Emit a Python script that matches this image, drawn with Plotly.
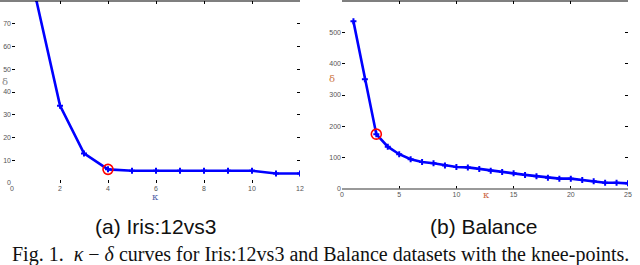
import plotly.graph_objects as go

# Left panel: Iris:12vs3
k_iris = [1, 2, 3, 4, 5, 6, 7, 8, 9, 10, 11, 12]
d_iris = [81, 34, 13, 6, 5.4, 5.4, 5.4, 5.4, 5.4, 5.4, 4.2, 4.2]
knee_iris_k = [4]
knee_iris_d = [6]

# Right panel: Balance
k_bal = list(range(1, 26))
d_bal = [535, 350, 175, 135, 111, 95, 86, 82, 75, 70, 69, 64, 58, 54, 50,
         45, 41, 36, 33, 33, 29, 25, 20, 20, 18]
knee_bal_k = [3]
knee_bal_d = [175]

iris_xticks = [0, 2, 4, 6, 8, 10, 12]
iris_yticks = [0, 10, 20, 30, 40, 50, 60, 70, 80]
bal_xticks = [0, 5, 10, 15, 20, 25]
bal_yticks = [0, 100, 200, 300, 400, 500, 600]

H = 265.0
W = 640.0

fig = go.Figure()
line_style = dict(color="#0000FF", width=2.6)
mk = dict(symbol="cross", size=5, color="#0000FF")

fig.add_trace(go.Scatter(x=k_iris, y=d_iris, mode="lines+markers", line=line_style,
                         marker=mk, xaxis="x", yaxis="y", cliponaxis=True))
fig.add_trace(go.Scatter(x=knee_iris_k, y=knee_iris_d, mode="markers",
                         marker=dict(symbol="circle-open", size=10, color="red", line=dict(width=1.6)),
                         xaxis="x", yaxis="y"))
fig.add_trace(go.Scatter(x=k_bal, y=d_bal, mode="lines+markers", line=line_style,
                         marker=mk, xaxis="x2", yaxis="y2"))
fig.add_trace(go.Scatter(x=knee_bal_k, y=knee_bal_d, mode="markers",
                         marker=dict(symbol="circle-open", size=10, color="red", line=dict(width=1.6)),
                         xaxis="x2", yaxis="y2"))

tickfont = dict(family="Liberation Sans", size=7, color="#555555")
common = dict(showgrid=False, zeroline=False, showline=False, ticks="inside",
              ticklen=3, tickcolor="black", tickwidth=1, mirror="ticks",
              tickfont=tickfont, automargin=False)

fig.update_layout(
    width=640, height=265,
    margin=dict(l=0, r=0, t=0, b=0, autoexpand=False),
    paper_bgcolor="white", plot_bgcolor="white",
    showlegend=False,
    xaxis=dict(domain=[12 / W, 300 / W], range=[0, 12], tickvals=iris_xticks,
               anchor="y", **common),
    yaxis=dict(domain=[1 - 183 / H, 1 - 1 / H], range=[0, 80], tickvals=iris_yticks,
               anchor="x", **common),
    xaxis2=dict(domain=[342 / W, 628 / W], range=[0, 25], tickvals=bal_xticks,
                anchor="y2", **common),
    yaxis2=dict(domain=[1 - 189 / H, 1 - 1 / H], range=[0, 600], tickvals=bal_yticks,
                anchor="x2", **common),
)

# axis border lines (top for both, bottom gray for right)
fig.add_shape(type="line", xref="paper", yref="paper", x0=0 / W, x1=300 / W,
              y0=1 - 1 / H, y1=1 - 1 / H, line=dict(color="black", width=1.2))
fig.add_shape(type="line", xref="paper", yref="paper", x0=342 / W, x1=628 / W,
              y0=1 - 1 / H, y1=1 - 1 / H, line=dict(color="black", width=1.2))
fig.add_shape(type="line", xref="paper", yref="paper", x0=342 / W, x1=628 / W,
              y0=1 - 189 / H, y1=1 - 189 / H, line=dict(color="#777777", width=1.5))


def label(text, x, y, family, size, color):
    return dict(text=text, x=x / W, y=1 - y / H, xref="paper", yref="paper",
                xanchor="center", yanchor="middle", showarrow=False,
                font=dict(family=family, size=size, color=color))


ann = [
    label("κ", 155, 197, "DejaVu Serif", 10, "#5566aa"),
    label("δ", 5, 82, "DejaVu Serif", 10, "#888888"),
    label("κ", 486, 194, "DejaVu Serif", 10, "#cc6644"),
    label("δ", 332, 79, "DejaVu Serif", 10, "#cc7744"),
    label("(a) Iris:12vs3", 155, 226, "Liberation Sans", 21, "#111111"),
    label("(b) Balance", 483, 226, "Liberation Sans", 21, "#111111"),
    label("Fig. 1.  <i>κ</i> − <i>δ</i> curves for Iris:12vs3 and Balance datasets with the knee-points.",
          320, 254, "Liberation Serif", 20, "#111111"),
]
fig.update_layout(annotations=ann)

fig.write_html("out.html", config={"displayModeBar": False},
               post_script="document.body.style.margin='0';")
